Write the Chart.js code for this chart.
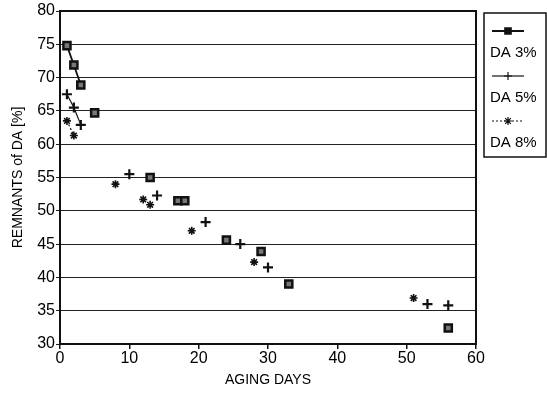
<!DOCTYPE html>
<html>
<head>
<meta charset="utf-8">
<script src="https://cdn.jsdelivr.net/npm/chart.js@4"></script>
<style>
  html, body { margin: 0; padding: 0; background: #fff; }
  #wrap { width: 547px; height: 393px; }
</style>
</head>
<body>
<div id="wrap"><canvas id="chart" width="547" height="393"></canvas></div>
<script>
// data
const da3Days = [1, 2, 3, 5, 13, 17, 18, 24, 29, 33, 56];
const da3Vals = [74.8, 71.9, 68.9, 64.7, 55.0, 51.5, 51.5, 45.6, 43.9, 39.0, 32.4];
const da5Days = [1, 2, 3, 10, 14, 21, 26, 30, 53, 56];
const da5Vals = [67.5, 65.5, 62.9, 55.5, 52.3, 48.3, 45.0, 41.5, 36.0, 35.8];
const da8Days = [1, 2, 8, 12, 13, 19, 28, 51];
const da8Vals = [63.5, 61.3, 54.0, 51.7, 50.9, 47.0, 42.3, 36.9];
const seriesNames = ['DA 3%', 'DA 5%', 'DA 8%'];

const fontFam = '"Liberation Sans", Arial, Helvetica, sans-serif';

function toPoints(xs, ys) {
    return xs.map((x, i) => ({ x: x, y: ys[i] }));
}

// only the first few points of each series are joined by a line
function lineUntil(n) {
    return ctx => ctx.p0DataIndex < n - 1 ? '#111' : 'rgba(0,0,0,0)';
}

// frame round the plot + legend box on the right
const framePlugin = {
    id: 'frame',
    afterDraw(chart) {
        const c = chart.ctx;
        const a = chart.chartArea;
        c.save();
        c.strokeStyle = '#111';
        c.lineWidth = 2;
        c.strokeRect(a.left, a.top, a.right - a.left, a.bottom - a.top);

        // legend
        const lx = 484, ly = 13, lw = 62, lh = 144;
        c.lineWidth = 1.5;
        c.strokeRect(lx, ly, lw, lh);
        const rows = [
            { y: 31, dash: [], style: 'rect' },
            { y: 76, dash: [], style: 'cross' },
            { y: 121, dash: [2, 2], style: 'star' }
        ];
        c.font = '15px ' + fontFam;
        c.fillStyle = '#000';
        c.textBaseline = 'middle';
        rows.forEach((r, i) => {
            c.beginPath();
            c.setLineDash(r.dash);
            c.lineWidth = i === 0 ? 2 : 1.2;
            c.moveTo(492, r.y);
            c.lineTo(524, r.y);
            c.stroke();
            c.setLineDash([]);
            c.fillStyle = '#111';
            Chart.helpers.drawPoint(c, {
                pointStyle: r.style,
                radius: 4,
                borderWidth: i === 0 ? 2 : 1.3
            }, 508, r.y);
            c.fillStyle = '#000';
            c.fillText(seriesNames[i], 490, r.y + 22);
        });
        c.restore();
    }
};

new Chart(document.getElementById('chart'), {
    type: 'scatter',
    data: {
        datasets: [{
            label: seriesNames[0],
            data: toPoints(da3Days, da3Vals),
            showLine: true,
            borderWidth: 1.8,
            segment: { borderColor: lineUntil(3) },
            pointStyle: 'rect',
            pointRadius: 5,
            pointBorderWidth: 2.5,
            pointBorderColor: '#111',
            pointBackgroundColor: '#777'
        }, {
            label: seriesNames[1],
            data: toPoints(da5Days, da5Vals),
            showLine: true,
            borderWidth: 1.2,
            segment: { borderColor: lineUntil(3) },
            pointStyle: 'cross',
            pointRadius: 5,
            pointBorderWidth: 2.2,
            pointBorderColor: '#111',
            pointBackgroundColor: '#111'
        }, {
            label: seriesNames[2],
            data: toPoints(da8Days, da8Vals),
            showLine: true,
            borderWidth: 1.2,
            borderDash: [2, 2],
            segment: { borderColor: lineUntil(2) },
            pointStyle: 'star',
            pointRadius: 4,
            pointBorderWidth: 1.6,
            pointBorderColor: '#111',
            pointBackgroundColor: '#111'
        }]
    },
    options: {
        responsive: false,
        animation: false,
        layout: { padding: { left: 0, top: 11, right: 71, bottom: 0 } },
        plugins: {
            legend: { display: false },
            tooltip: { enabled: false }
        },
        scales: {
            x: {
                type: 'linear',
                min: 0,
                max: 60,
                ticks: {
                    stepSize: 10,
                    color: '#000',
                    padding: 0,
                    font: { family: fontFam, size: 16 }
                },
                grid: {
                    display: true,
                    drawOnChartArea: false,
                    drawTicks: true,
                    tickLength: 5,
                    color: '#111',
                    lineWidth: 1.5
                },
                border: { display: false },
                title: {
                    display: true,
                    text: 'AGING DAYS',
                    color: '#000',
                    padding: { top: 0, bottom: 4 },
                    font: { family: fontFam, size: 14 }
                },
                afterFit: s => { s.height = 49; }
            },
            y: {
                min: 30,
                max: 80,
                ticks: {
                    stepSize: 5,
                    color: '#000',
                    padding: 1,
                    font: { family: fontFam, size: 16 }
                },
                grid: {
                    color: '#222',
                    lineWidth: 1,
                    drawTicks: true,
                    tickLength: 4
                },
                border: { display: false },
                title: {
                    display: true,
                    text: 'REMNANTS of DA [%]',
                    color: '#000',
                    padding: { top: 10, bottom: 2 },
                    font: { family: fontFam, size: 14 }
                },
                afterFit: s => { s.width = 60; }
            }
        }
    },
    plugins: [framePlugin]
});
</script>
</body>
</html>
